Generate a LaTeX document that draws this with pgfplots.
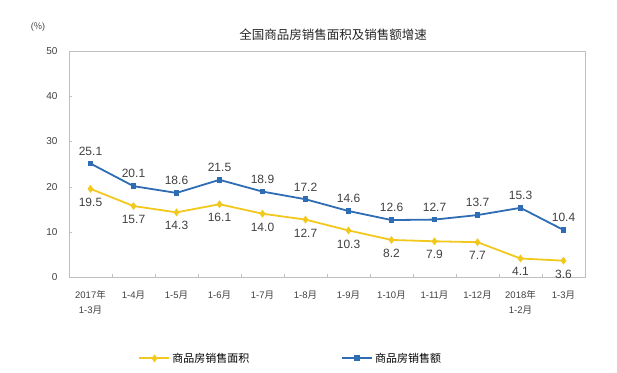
\documentclass[border=0pt]{standalone}
\usepackage{pgfplots}
\pgfplotsset{compat=1.18}
\usepackage{fontspec}
\setmainfont{Liberation Sans}
\newfontfamily\cjk{Noto Sans CJK SC}
\definecolor{cblue}{RGB}{46,109,180}
\definecolor{cyel}{RGB}{242,200,30}
\definecolor{axgray}{RGB}{191,191,191}
\definecolor{txt}{RGB}{64,64,64}
\begin{document}
\begin{tikzpicture}[x=1pt,y=1pt]
\path[use as bounding box] (0,0) rectangle (617,372);
\begin{axis}[
  at={(69pt,95pt)}, anchor=south west,
  scale only axis, width=516pt, height=226pt,
  xmin=-0.5, xmax=11.5, ymin=0, ymax=50,
  axis line style={axgray},
  xtick={0,...,11},
  xticklabels={{2017{\cjk 年}\\1-3{\cjk 月}},{1-4{\cjk 月}},{1-5{\cjk 月}},{1-6{\cjk 月}},{1-7{\cjk 月}},{1-8{\cjk 月}},{1-9{\cjk 月}},{1-10{\cjk 月}},{1-11{\cjk 月}},{1-12{\cjk 月}},{2018{\cjk 年}\\1-2{\cjk 月}},{1-3{\cjk 月}}},
  xticklabel style={align=center, font=\fontsize{9.5}{14.5}\selectfont, text=txt, yshift=-10pt},
  major x tick style={draw=none},
  minor xtick={0.5,1.5,...,10.5},
  minor x tick style={axgray},
  minor tick length=3pt,
  ytick={0,10,...,50},
  yticklabel style={font=\fontsize{10}{12}\selectfont, text=txt, xshift=-8pt},
  /pgf/number format/assume math mode=true,
  major tick length=3pt,
  y tick style={axgray},
  tick align=inside,
  xtick pos=bottom, ytick pos=left,
  nodes near coords,
  every node near coord/.append style={font=\fontsize{12}{14}\selectfont, text=txt,
    /pgf/number format/fixed, /pgf/number format/precision=1, /pgf/number format/fixed zerofill},
  legend columns=2,
  legend style={draw=none, at={(0.43,-0.36)}, anchor=center,
    font=\fontsize{11}{13}\selectfont\cjk, /tikz/every even column/.append style={column sep=90pt}},
  legend image code/.code={\draw[#1] (0pt,0pt) -- (15pt,0pt) plot coordinates {(15pt,0pt)} -- (30pt,0pt);},
]
\addplot[cyel, line width=1.8pt, mark=diamond*, mark size=2.5pt,
  every node near coord/.append style={anchor=north, yshift=-5pt}]
  coordinates {(0,19.5)(1,15.7)(2,14.3)(3,16.1)(4,14.0)(5,12.7)(6,10.3)(7,8.2)(8,7.9)(9,7.7)(10,4.1)(11,3.6)};
\addlegendentry{商品房销售面积}
\addplot[cblue, line width=1.8pt, mark=square*, mark size=2pt,
  every node near coord/.append style={anchor=south, yshift=4pt}]
  coordinates {(0,25.1)(1,20.1)(2,18.6)(3,21.5)(4,18.9)(5,17.2)(6,14.6)(7,12.6)(8,12.7)(9,13.7)(10,15.3)(11,10.4)};
\addlegendentry{商品房销售额}
\end{axis}
\node[font=\fontsize{12.5}{14}\selectfont\cjk, text=black!85] at (333,337) {全国商品房销售面积及销售额增速};
\node[font=\fontsize{9}{11}\selectfont, text=txt] at (38,345) {({\cjk \%})};
\end{tikzpicture}
\end{document}
